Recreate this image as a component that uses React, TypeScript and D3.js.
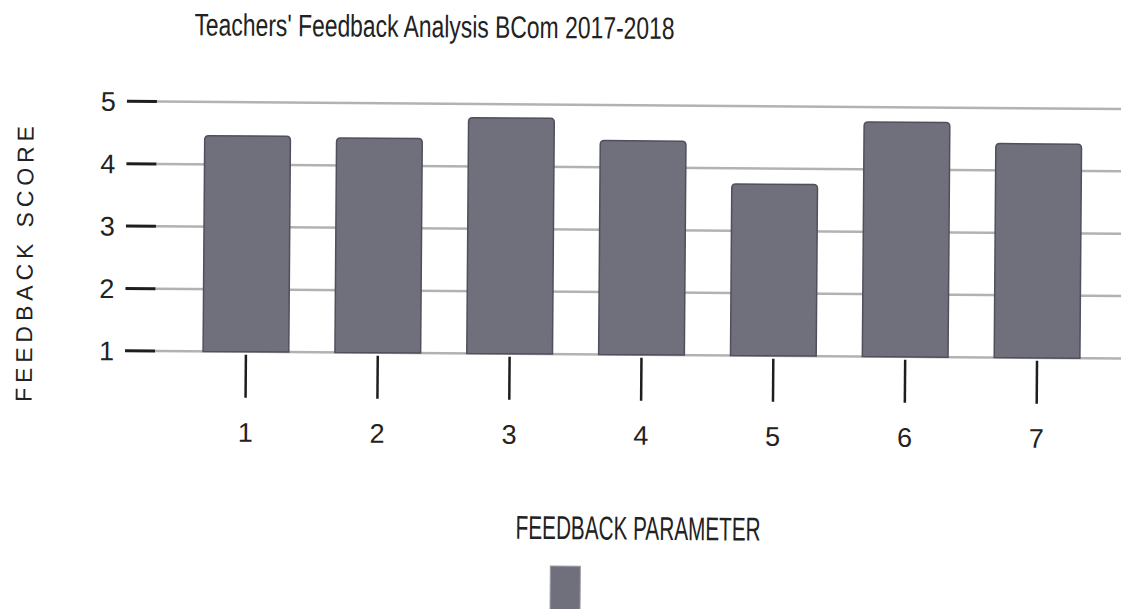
import { useEffect, useRef } from "react";
import * as d3 from "d3";

const categories = ["1", "2", "3", "4", "5", "6", "7"];
const scores = [4.46, 4.44, 4.78, 4.43, 3.75, 4.76, 4.43];
const yTicks = [1, 2, 3, 4, 5];

const W = 1121;
const H = 609;
const barFill = "#70707d";

const App = () => {
  const ref = useRef<SVGSVGElement | null>(null);

  useEffect(() => {
    if (!ref.current) return;
    const svg = d3.select(ref.current);
    svg.selectAll("*").remove();

    const narrow = "'Liberation Sans Narrow', 'Liberation Sans', sans-serif";

    // the scan is tilted a little, so the whole drawing is too
    const g = svg.append("g").attr("transform", "rotate(0.44, 150, 351)");

    const x = d3
      .scaleBand<string>()
      .domain(categories)
      .range([180, 1103])
      .paddingInner(0.35)
      .paddingOuter(0.175);

    const y = d3.scaleLinear().domain([1, 5]).range([351, 101.5]);

    // gridlines + dark tick stubs
    const grid = g.append("g");
    grid
      .selectAll("line.grid")
      .data(yTicks)
      .join("line")
      .attr("class", "grid")
      .attr("x1", 155)
      .attr("x2", W + 10)
      .attr("y1", (d) => y(d))
      .attr("y2", (d) => y(d))
      .attr("stroke", "#b2b2b2")
      .attr("stroke-width", 2.5);
    grid
      .selectAll("line.stub")
      .data(yTicks)
      .join("line")
      .attr("class", "stub")
      .attr("x1", 125)
      .attr("x2", 155)
      .attr("y1", (d) => y(d))
      .attr("y2", (d) => y(d))
      .attr("stroke", "#1e1e1e")
      .attr("stroke-width", 3);
    grid
      .selectAll("text")
      .data(yTicks)
      .join("text")
      .attr("x", 114)
      .attr("y", (d) => y(d))
      .attr("dy", "0.36em")
      .attr("text-anchor", "end")
      .attr("font-family", narrow)
      .attr("font-size", 27)
      .attr("fill", "#222")
      .text((d) => d);

    // bars with slightly rounded tops
    const r = 4;
    g.append("g")
      .selectAll("path")
      .data(scores)
      .join("path")
      .attr("d", (d, i) => {
        const x0 = x(categories[i])!;
        const x1 = x0 + x.bandwidth();
        const top = y(d);
        const bot = y(1);
        return `M${x0},${bot}V${top + r}Q${x0},${top} ${x0 + r},${top}H${x1 - r}Q${x1},${top} ${x1},${top + r}V${bot}Z`;
      })
      .attr("fill", barFill)
      .attr("stroke", "#50505c")
      .attr("stroke-width", 1.5);

    // x ticks and labels
    const xt = g.append("g");
    xt.selectAll("line")
      .data(categories)
      .join("line")
      .attr("x1", (d) => x(d)! + x.bandwidth() / 2)
      .attr("x2", (d) => x(d)! + x.bandwidth() / 2)
      .attr("y1", y(1) + 3)
      .attr("y2", y(1) + 46)
      .attr("stroke", "#1e1e1e")
      .attr("stroke-width", 2.5);
    xt.selectAll("text")
      .data(categories)
      .join("text")
      .attr("x", (d) => x(d)! + x.bandwidth() / 2)
      .attr("y", 441)
      .attr("text-anchor", "middle")
      .attr("font-family", narrow)
      .attr("font-size", 27)
      .attr("fill", "#222")
      .text((d) => d);

    // title
    g.append("text")
      .attr("x", 192)
      .attr("y", 35)
      .attr("font-family", narrow)
      .attr("font-size", 31)
      .attr("fill", "#222")
      .attr("textLength", 480)
      .attr("lengthAdjust", "spacingAndGlyphs")
      .text("Teachers' Feedback Analysis BCom  2017-2018");

    // axis titles
    g.append("text")
      .attr("transform", "translate(32, 265) rotate(-90)")
      .attr("text-anchor", "middle")
      .attr("font-family", "'Liberation Sans', Arial, sans-serif")
      .attr("font-size", 23)
      .attr("fill", "#222")
      .attr("textLength", 276)
      .attr("lengthAdjust", "spacing")
      .text("FEEDBACK  SCORE");

    g.append("text")
      .attr("x", 517)
      .attr("y", 536)
      .attr("font-family", narrow)
      .attr("font-size", 33)
      .attr("fill", "#222")
      .attr("textLength", 245)
      .attr("lengthAdjust", "spacingAndGlyphs")
      .text("FEEDBACK PARAMETER");

    // legend swatch (cut off at bottom)
    g.append("rect")
      .attr("x", 552)
      .attr("y", 563)
      .attr("width", 30)
      .attr("height", 60)
      .attr("fill", barFill)
      .attr("stroke", "#9a9aa4")
      .attr("stroke-width", 1);
  }, []);

  return (
    <svg
      ref={ref}
      width={W}
      height={H}
      style={{ position: "absolute", left: 0, top: 0, background: "#fff" }}
    />
  );
};

export default App;
